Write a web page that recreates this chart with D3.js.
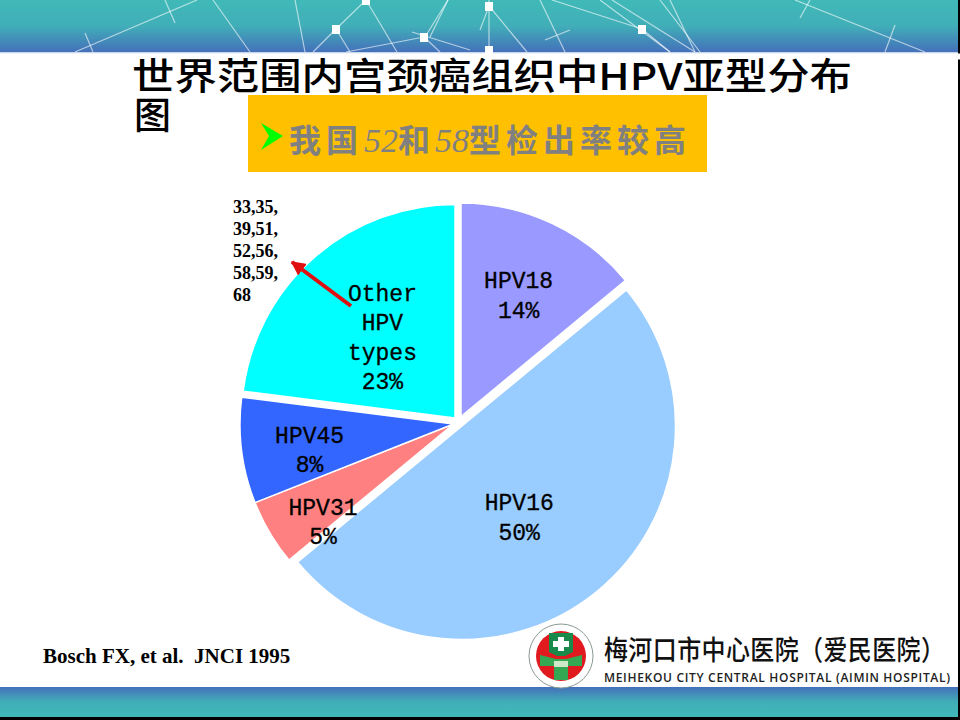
<!DOCTYPE html>
<html>
<head>
<meta charset="utf-8">
<title>HPV</title>
<script src="https://cdn.jsdelivr.net/npm/d3@7/dist/d3.min.js"></script>
<style>
  html, body { margin: 0; padding: 0; background: #fff; }
  svg { display: block; }
</style>
</head>
<body>
<svg id="slide" width="960" height="720"></svg>
<script>
// data
var categories = ['HPV18', 'HPV16', 'HPV31', 'HPV45', 'Other HPV types'];
var labelLines = [['HPV18'], ['HPV16'], ['HPV31'], ['HPV45'], ['Other', 'HPV', 'types']];
var values = [14, 50, 5, 8, 23];
var sliceColors = ['#9999ff', '#99ccff', '#ff8080', '#3366ff', '#00ffff'];
var otherTypes = ['33,35,', '39,51,', '52,56,', '58,59,', '68'];

var titleLine1 = '世界范围内宫颈癌组织中HPV亚型分布';
var titleLine2 = '图';
var sourceText = 'Bosch FX, et al.  JNCI 1995';

// layout
var cjk = '"Noto Sans CJK SC", sans-serif';
var radius = 213.5;
var sliceCenters = [[461, 416.5], [462, 426], [453.5, 424], [453.5, 424], [455, 418]];
var labelNudge = [[-2, 5], [-32, -17], [-10, 26], [-5, 8], [20, 24]];

var svg = d3.select('#slide');
var defs = svg.append('defs');

// BANNERS
function bannerGradient(id, flip) {
  var g = defs.append('linearGradient').attr('id', id)
    .attr('x1', 0).attr('y1', flip ? 1 : 0).attr('x2', 0).attr('y2', flip ? 0 : 1);
  g.append('stop').attr('offset', '0%').attr('stop-color', '#40b9b8');
  g.append('stop').attr('offset', '50%').attr('stop-color', '#41aeb8');
  g.append('stop').attr('offset', '100%').attr('stop-color', '#4470ba');
}
bannerGradient('topBand', false);
bannerGradient('bottomBand', true);

svg.append('rect').attr('width', 960).attr('height', 720).attr('fill', '#fff');
svg.append('rect').attr('width', 960).attr('height', 52).attr('fill', 'url(#topBand)');
svg.append('rect').attr('y', 52).attr('width', 960).attr('height', 1.5).attr('fill', '#c6d6ec');
svg.append('rect').attr('y', 687).attr('width', 960).attr('height', 30).attr('fill', 'url(#bottomBand)');
svg.append('rect').attr('y', 717).attr('width', 960).attr('height', 3).attr('fill', '#000');
svg.append('rect').attr('x', 958).attr('width', 2).attr('height', 720).attr('fill', '#000');

// network decoration in the top band
var netLines = [
  [75,52,197,0],[165,0,175,23],[85,33,93,52],[213,0,250,52],[295,0,305,52],
  [313,52,336,29],[336,29,366,0],[336,29,350,52],[366,0,397,52],[346,52,424,37],
  [412,32,470,50],[424,37,440,52],[425,37,448,0],[430,37,448,0],
  [489,0,489,50],[489,6,527,52],[480,30,489,6],[540,0,565,52],[545,40,570,30],
  [552,0,642,29],[642,29,670,52],[600,0,670,52],[612,0,695,52],[660,0,700,52],
  [670,0,695,52],[795,0,925,52],[810,0,800,18],[895,25,885,52]
];
var netNodes = [[336,29],[366,0],[424,37],[489,6],[489,50],[642,29]];
var net = svg.append('g');
net.selectAll('line').data(netLines).enter().append('line')
  .attr('x1', function(d) { return d[0]; }).attr('y1', function(d) { return d[1]; })
  .attr('x2', function(d) { return d[2]; }).attr('y2', function(d) { return d[3]; })
  .attr('stroke', '#fff').attr('stroke-opacity', 0.6).attr('stroke-width', 1.2);
net.selectAll('rect').data(netNodes).enter().append('rect')
  .attr('x', function(d) { return d[0] - 4; }).attr('y', function(d) { return d[1] - 4; })
  .attr('width', 8).attr('height', 9).attr('fill', '#fff');
// the bottom node is cut off by the white page
svg.append('rect').attr('y', 53.5).attr('width', 960).attr('height', 6).attr('fill', '#fff');

// TITLE
svg.append('text').attr('x', 132).attr('y', 90)
  .attr('textLength', 720).attr('lengthAdjust', 'spacingAndGlyphs')
  .attr('font-family', cjk).attr('font-size', 37).attr('font-weight', 500)
  .attr('fill', '#000').text(titleLine1);
svg.append('text').attr('x', 134).attr('y', 129)
  .attr('font-family', cjk).attr('font-size', 37).attr('font-weight', 500)
  .attr('fill', '#000').text(titleLine2);

// CALLOUT
svg.append('rect').attr('x', 248).attr('y', 95).attr('width', 459).attr('height', 77).attr('fill', '#ffc000');
svg.append('path').attr('d', 'M261,123 L283,136 L261,150 L269,136 Z').attr('fill', '#00ff00');
var callout = svg.append('text').attr('x', 289).attr('y', 152)
  .attr('font-family', cjk).attr('font-size', 32).attr('font-weight', 700)
  .attr('fill', '#808080').attr('letter-spacing', 5);
callout.append('tspan').text('我国');
callout.append('tspan').attr('dx', 1).attr('font-family', '"Liberation Serif", serif')
  .attr('font-style', 'italic').attr('font-weight', 400).attr('font-size', 34)
  .attr('letter-spacing', 0).text('52');
callout.append('tspan').text('和');
callout.append('tspan').attr('font-family', '"Liberation Serif", serif')
  .attr('font-style', 'italic').attr('font-weight', 400).attr('font-size', 34)
  .attr('letter-spacing', 0).text('58');
callout.append('tspan').text('型检出率较高');

// PIE
var pie = d3.pie().value(function(d) { return d; }).sort(null);
var arc = d3.arc().innerRadius(0).outerRadius(radius);
var labelArc = d3.arc().innerRadius(140).outerRadius(140);

var slices = svg.selectAll('.slice').data(pie(values)).enter().append('g')
  .attr('class', 'slice')
  .attr('data-name', function(d, i) { return categories[i]; })
  .attr('transform', function(d, i) { return 'translate(' + sliceCenters[i] + ')'; });

slices.append('path').attr('d', arc)
  .attr('fill', function(d, i) { return sliceColors[i]; })
  .attr('stroke', '#fff').attr('stroke-width', 1.5);

slices.each(function(d, i) {
  var c = labelArc.centroid(d);
  var rows = labelLines[i].concat(d.value + '%');
  var t = d3.select(this).append('text')
    .attr('text-anchor', 'middle')
    .attr('font-family', '"Liberation Mono", monospace').attr('font-size', 23)
    .attr('fill', '#000').attr('stroke', '#000').attr('stroke-width', 0.3);
  t.selectAll('tspan').data(rows).enter().append('tspan')
    .attr('x', c[0] + labelNudge[i][0])
    .attr('y', function(r, j) {
      return c[1] + labelNudge[i][1] + 8 + (j - (rows.length - 1) / 2) * 29.5;
    })
    .text(function(r) { return r; });
});

// ANNOTATION
defs.append('marker').attr('id', 'arrowHead')
  .attr('viewBox', '0 0 10 10').attr('refX', 9).attr('refY', 5)
  .attr('markerWidth', 3.6).attr('markerHeight', 3.6).attr('orient', 'auto')
  .append('path').attr('d', 'M0,0 L10,5 L0,10 Z').attr('fill', '#e01010');
svg.append('line').attr('x1', 351).attr('y1', 306).attr('x2', 292).attr('y2', 262)
  .attr('stroke', '#e01010').attr('stroke-width', 4).attr('marker-end', 'url(#arrowHead)');

svg.selectAll('.other-type').data(otherTypes).enter().append('text')
  .attr('class', 'other-type')
  .attr('x', 233).attr('y', function(d, i) { return 213 + i * 22; })
  .attr('font-family', '"Liberation Serif", serif').attr('font-size', 18).attr('font-weight', 700)
  .attr('fill', '#000').text(function(d) { return d; });

svg.append('text').attr('x', 43).attr('y', 663).style('white-space', 'pre')
  .attr('font-family', '"Liberation Serif", serif').attr('font-size', 21).attr('font-weight', 700)
  .attr('fill', '#000').text(sourceText);

// HOSPITAL LOGO
var logo = svg.append('g').attr('transform', 'translate(561,656)');
logo.append('circle').attr('r', 32).attr('fill', '#fff').attr('stroke', '#8a9a90').attr('stroke-width', 1);
logo.append('circle').attr('r', 25).attr('fill', '#e01a1f');
logo.append('path').attr('d', 'M-12,-23 H12 V-4 L4,0 H-4 L-12,-4 Z').attr('fill', '#1a8a4a');
logo.append('path').attr('d', 'M-3,-19 H3 V-15 H8 V-9 H3 V-5 H-3 V-9 H-8 V-15 H-3 Z').attr('fill', '#fff');
logo.append('path').attr('d', 'M-21,-1 L-5,3 H5 L21,-1 V10 H7 V24 H-7 V10 H-21 Z').attr('fill', '#35a853');
logo.append('path').attr('d', 'M-7,5 H7 V11 H-7 Z').attr('fill', '#cfe8c8');

svg.append('text').attr('transform', 'translate(604,660) scale(1,1.15)')
  .attr('textLength', 341).attr('lengthAdjust', 'spacing')
  .attr('font-family', cjk).attr('font-size', 24).attr('font-weight', 500)
  .attr('fill', '#111').text('梅河口市中心医院（爱民医院）');
svg.append('text').attr('x', 604).attr('y', 682)
  .attr('textLength', 346).attr('lengthAdjust', 'spacing')
  .attr('font-family', '"Open Sans", sans-serif').attr('font-size', 12).attr('font-weight', 600)
  .attr('fill', '#222').text('MEIHEKOU CITY CENTRAL HOSPITAL (AIMIN HOSPITAL)');
</script>
</body>
</html>
